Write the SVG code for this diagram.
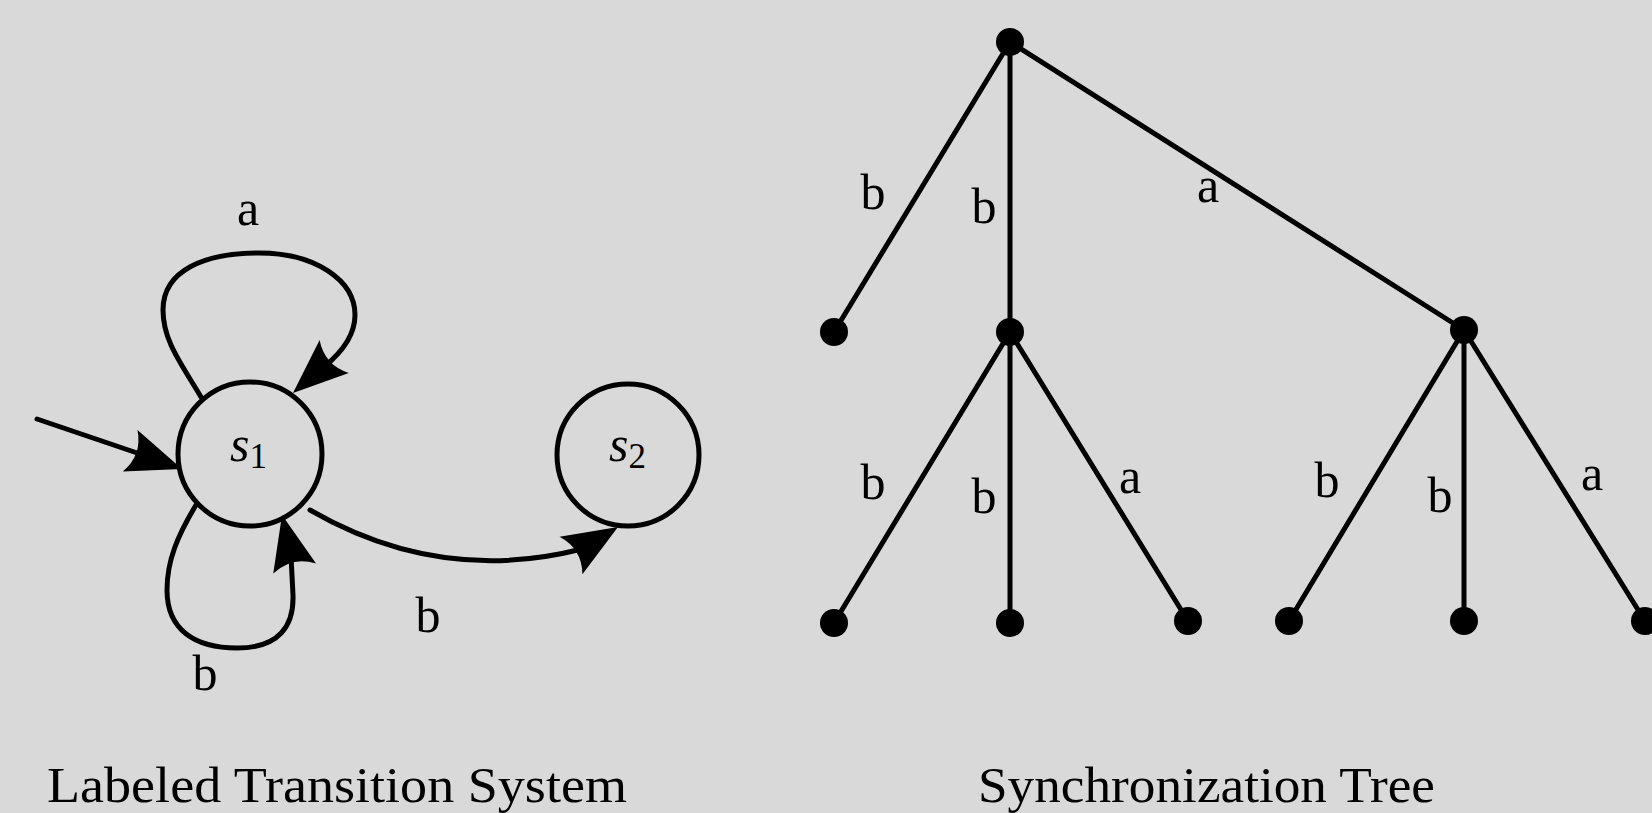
<svg xmlns="http://www.w3.org/2000/svg" xmlns:xlink="http://www.w3.org/1999/xlink" width="1652" height="813" viewBox="0 0 1652 813">
  <style>
    .edge { fill: none; stroke: #000; stroke-width: 5; stroke-linecap: round; }
    .state { fill: none; stroke: #000; stroke-width: 5; }
    .dot { fill: #000; }
    .lbl { font-family: "Liberation Serif", "Times New Roman", serif; font-size: 50px; fill: #000; text-anchor: middle; }
    .st { font-family: "Liberation Serif", "Times New Roman", serif; font-size: 50px; fill: #000; font-style: italic; }
    .sub { font-style: normal; font-size: 35px; }
    .title { font-family: "Liberation Serif", "Times New Roman", serif; font-size: 50px; fill: #000; }
  </style>
  <defs>
    <path id="ah" d="M0,0 L-55,-22 Q-42,0 -55,22 Z" fill="#000"/>
  </defs>
  <rect width="1652" height="813" fill="#d9d9d9"/>

  <!-- Labeled Transition System -->
  <g id="s1">
    <circle class="state" cx="250" cy="454" r="72"/>
    <text class="st" x="230" y="461">s<tspan class="sub" dy="7">1</tspan></text>
  </g>
  <g id="s2">
    <circle class="state" cx="628" cy="455" r="71"/>
    <text class="st" x="609" y="461">s<tspan class="sub" dy="7">2</tspan></text>
  </g>

  <g id="lts-connectors">
    <line class="edge" x1="37" y1="419" x2="146" y2="456"/>
    <use xlink:href="#ah" transform="translate(182,469) rotate(19.5)"/>

    <path class="edge" d="M201,397 C180,362 163,340 163,310 C163,270 205,253 259,253 C315,253 355,280 355,315 C355,335 342,352 325,366"/>
    <use xlink:href="#ah" transform="translate(293,393) rotate(138.5)"/>
    <text class="lbl" x="248" y="225">a</text>

    <path class="edge" d="M196,505 C178,535 167,560 167,590 C167,630 195,648 237,648 C280,648 294,625 293,595 L291,556"/>
    <use xlink:href="#ah" transform="translate(282,515) rotate(-103.3)"/>
    <text class="lbl" x="205" y="690">b</text>

    <path class="edge" d="M310,510 Q440,585 582,549"/>
    <use xlink:href="#ah" transform="translate(618,527) rotate(-31.3)"/>
    <text class="lbl" x="428" y="632">b</text>
  </g>

  <!-- Synchronization Tree -->
  <g id="tree-connectors">
    <line class="edge" x1="1010" y1="42" x2="834" y2="332"/>
    <line class="edge" x1="1010" y1="42" x2="1010" y2="332"/>
    <line class="edge" x1="1010" y1="42" x2="1464" y2="330"/>
    <line class="edge" x1="1010" y1="332" x2="834" y2="623"/>
    <line class="edge" x1="1010" y1="332" x2="1010" y2="623"/>
    <line class="edge" x1="1010" y1="332" x2="1188" y2="621"/>
    <line class="edge" x1="1464" y1="330" x2="1289" y2="621"/>
    <line class="edge" x1="1464" y1="330" x2="1464" y2="621"/>
    <line class="edge" x1="1464" y1="330" x2="1645" y2="621"/>
    <text class="lbl" x="873" y="209">b</text>
    <text class="lbl" x="984" y="223">b</text>
    <text class="lbl" x="1208" y="202">a</text>
    <text class="lbl" x="873" y="499">b</text>
    <text class="lbl" x="984" y="513">b</text>
    <text class="lbl" x="1130" y="493">a</text>
    <text class="lbl" x="1327" y="497">b</text>
    <text class="lbl" x="1440" y="512">b</text>
    <text class="lbl" x="1592" y="490">a</text>
  </g>
  <g id="n-root"><circle class="dot" cx="1010" cy="42" r="14"/></g>
  <g id="n-l1a"><circle class="dot" cx="834" cy="332" r="14"/></g>
  <g id="n-l1b"><circle class="dot" cx="1010" cy="332" r="14"/></g>
  <g id="n-l1c"><circle class="dot" cx="1464" cy="330" r="14"/></g>
  <g id="n-l2a"><circle class="dot" cx="834" cy="623" r="14"/></g>
  <g id="n-l2b"><circle class="dot" cx="1010" cy="623" r="14"/></g>
  <g id="n-l2c"><circle class="dot" cx="1188" cy="621" r="14"/></g>
  <g id="n-l2d"><circle class="dot" cx="1289" cy="621" r="14"/></g>
  <g id="n-l2e"><circle class="dot" cx="1464" cy="621" r="14"/></g>
  <g id="n-l2f"><circle class="dot" cx="1645" cy="621" r="14"/></g>

  <g id="titles">
    <text class="title" x="47" y="802" textLength="580" lengthAdjust="spacingAndGlyphs">Labeled Transition System</text>
    <text class="title" x="978" y="802" textLength="457" lengthAdjust="spacingAndGlyphs">Synchronization Tree</text>
  </g>
</svg>
